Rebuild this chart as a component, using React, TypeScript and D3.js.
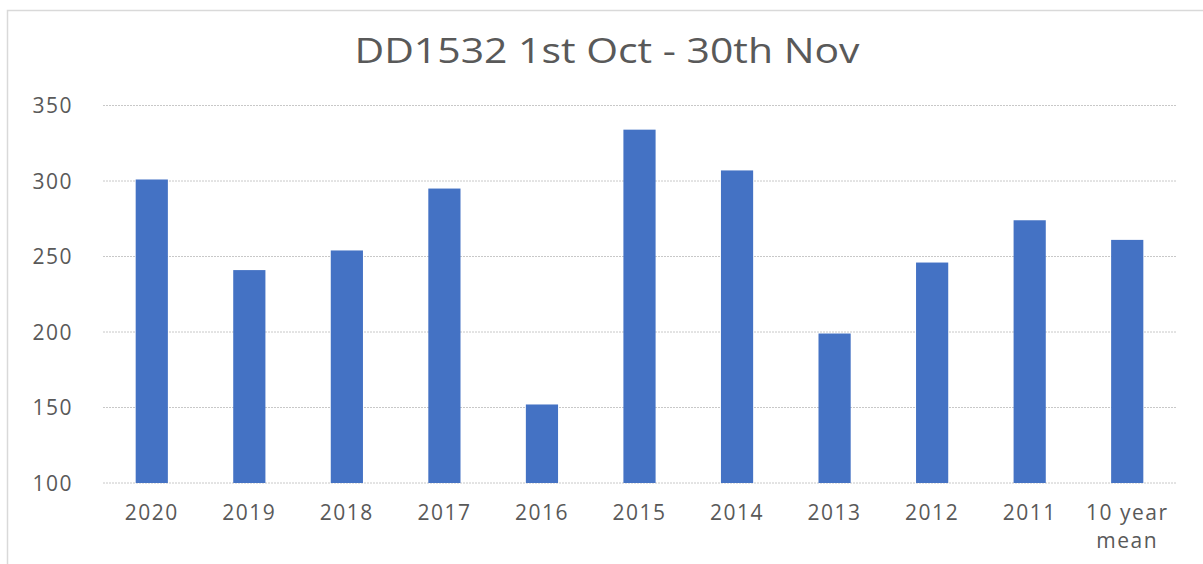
import { useMemo } from "react";
import * as d3 from "d3";

const WIDTH = 1203;
const HEIGHT = 564;
const MARGIN = { top: 105.5, right: 27, bottom: 81, left: 103 };

const categories = ["2020", "2019", "2018", "2017", "2016", "2015", "2014", "2013", "2012", "2011", "10 year mean"];
const values = [301, 241, 254, 295, 152, 334, 307, 199, 246, 274, 261];
const yTicks = [100, 150, 200, 250, 300, 350];

const TEXT = "#595959";
const FONT = "'Open Sans', 'Liberation Sans', sans-serif";

export default function App() {
    // bounds = area inside the axes
    const boundsWidth = WIDTH - MARGIN.left - MARGIN.right;
    const boundsHeight = HEIGHT - MARGIN.top - MARGIN.bottom;

    const xScale = useMemo(() => {
        return d3
            .scaleBand<string>()
            .domain(categories)
            .range([0, boundsWidth])
            .paddingInner(0.67)
            .paddingOuter(0.335);
    }, [boundsWidth]);

    const yScale = useMemo(() => {
        return d3.scaleLinear().domain([100, 350]).range([boundsHeight, 0]);
    }, [boundsHeight]);

    const bars = categories.map((c, i) => (
        <rect
            key={c}
            x={xScale(c)}
            y={yScale(values[i])}
            width={xScale.bandwidth()}
            height={yScale(100) - yScale(values[i])}
            fill="#4472C4"
        />
    ));

    return (
        <svg
            width={WIDTH}
            height={HEIGHT}
            style={{ position: "absolute", left: 0, top: 0, background: "#fff" }}
        >
            <rect x={7.5} y={10.5} width={WIDTH} height={HEIGHT} fill="#fff" stroke="#d9d9d9" strokeWidth={1.5} />
            <text
                x={607}
                y={63}
                textAnchor="middle"
                fontFamily={FONT}
                fontSize={35}
                fill={TEXT}
                textLength={505}
                lengthAdjust="spacingAndGlyphs"
            >
                DD1532 1st Oct - 30th Nov
            </text>
            <g transform={`translate(${MARGIN.left},${MARGIN.top})`}>
                {yTicks.map((t) => (
                    <g key={t}>
                        <line
                            x1={0}
                            x2={boundsWidth}
                            y1={yScale(t)}
                            y2={yScale(t)}
                            stroke="#c8c8c8"
                            strokeDasharray="2,1"
                        />
                        <text
                            x={-30}
                            y={yScale(t)}
                            dy="0.36em"
                            textAnchor="end"
                            fontFamily={FONT}
                            fontSize={21}
                            letterSpacing={1.5}
                            fill={TEXT}
                        >
                            {t}
                        </text>
                    </g>
                ))}
                {bars}
                {categories.map((c) => {
                    const cx = (xScale(c) || 0) + xScale.bandwidth() / 2;
                    const lines = c === "10 year mean" ? ["10 year", "mean"] : [c];
                    return (
                        <text
                            key={c}
                            x={cx}
                            y={boundsHeight + 37}
                            textAnchor="middle"
                            fontFamily={FONT}
                            fontSize={21}
                            letterSpacing={1.5}
                            fill={TEXT}
                        >
                            {lines.map((l, j) => (
                                <tspan key={l} x={cx} dy={j === 0 ? 0 : 28}>
                                    {l}
                                </tspan>
                            ))}
                        </text>
                    );
                })}
            </g>
        </svg>
    );
}
